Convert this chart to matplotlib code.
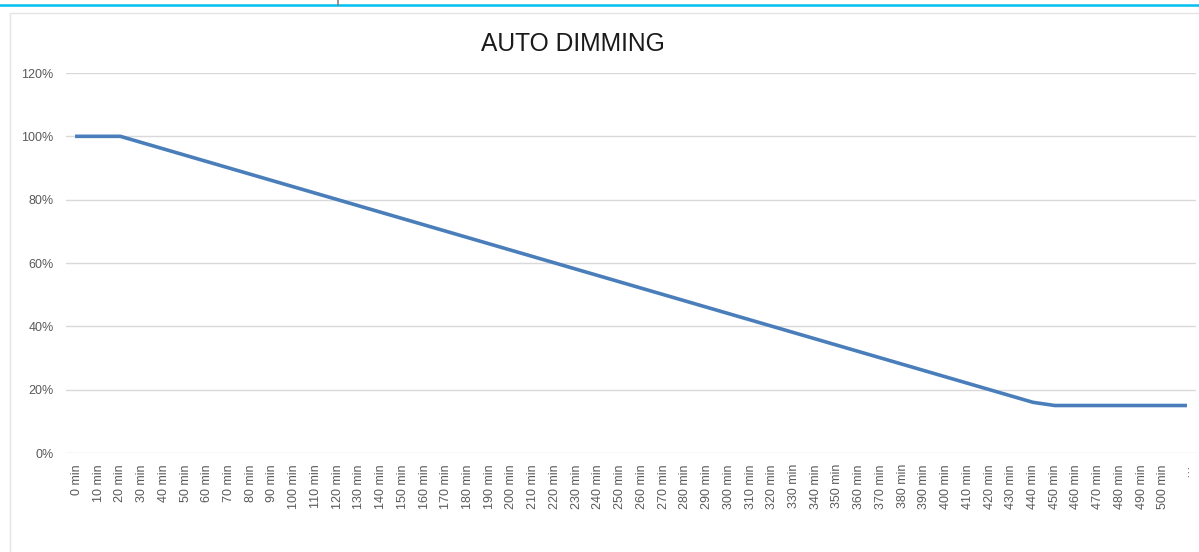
import numpy as np
import matplotlib
matplotlib.use("Agg")
from matplotlib import pyplot as plt
from matplotlib.patches import Rectangle
from matplotlib.lines import Line2D

plt.rcParams['font.family'] = ['Liberation Sans', 'DejaVu Sans']

# categories: 0 min .. 500 min, then a trailing "..." slot
labels = [f"{m} min" for m in range(0, 510, 10)] + ["\u2026"]
# dimming level in percent
level = [100, 100, 100, 98, 96, 94, 92, 90, 88, 86,
         84, 82, 80, 78, 76, 74, 72, 70, 68, 66,
         64, 62, 60, 58, 56, 54, 52, 50, 48, 46,
         44, 42, 40, 38, 36, 34, 32, 30, 28, 26,
         24, 22, 20, 18, 16, 15, 15, 15, 15, 15,
         15, 15]
yticks = [0, 20, 40, 60, 80, 100, 120]

W, H = 1199, 552
fig = plt.figure(figsize=(W/100, H/100), dpi=100)

# frame decorations around the chart (screenshot look)
fig.add_artist(Line2D([0, 1], [1-5/H, 1-5/H], color="#00c0f0", lw=1.8, transform=fig.transFigure))
fig.add_artist(Line2D([338/W, 338/W], [1, 1-5/H], color="#808080", lw=1.2, transform=fig.transFigure))
fig.add_artist(Rectangle((10/W, -0.01), 1.1, 1-13/H+0.01, transform=fig.transFigure,
                         fill=False, edgecolor="#e4e4e4", lw=1.0))

ax = fig.add_axes([66/W, 1-453/H, (1196-66)/W, (453-73)/H])
x = np.arange(len(labels))
ax.plot(x, level, color="#4a7ebb", lw=2.6, solid_joinstyle="round", zorder=3)

ax.set_xlim(-0.5, len(labels)-0.5)
ax.set_ylim(0, 120)
ax.set_yticks(yticks)
ax.set_yticklabels([f"{v}%" for v in yticks])
ax.set_xticks(x)
ax.set_xticklabels(labels, rotation=90)
ax.grid(axis="y", color="#d9d9d9", lw=1.0)
ax.set_axisbelow(True)
for s in ax.spines.values():
    s.set_visible(False)
ax.tick_params(axis="both", length=0, colors="#595959", labelsize=9)
ax.tick_params(axis="y", pad=9)
ax.tick_params(axis="x", pad=8)

fig.text(573/W, 1-44/H, "AUTO DIMMING", ha="center", va="center", fontsize=17.7, color="#1a1a1a")

fig.savefig("out.png", dpi=100, facecolor="white")
